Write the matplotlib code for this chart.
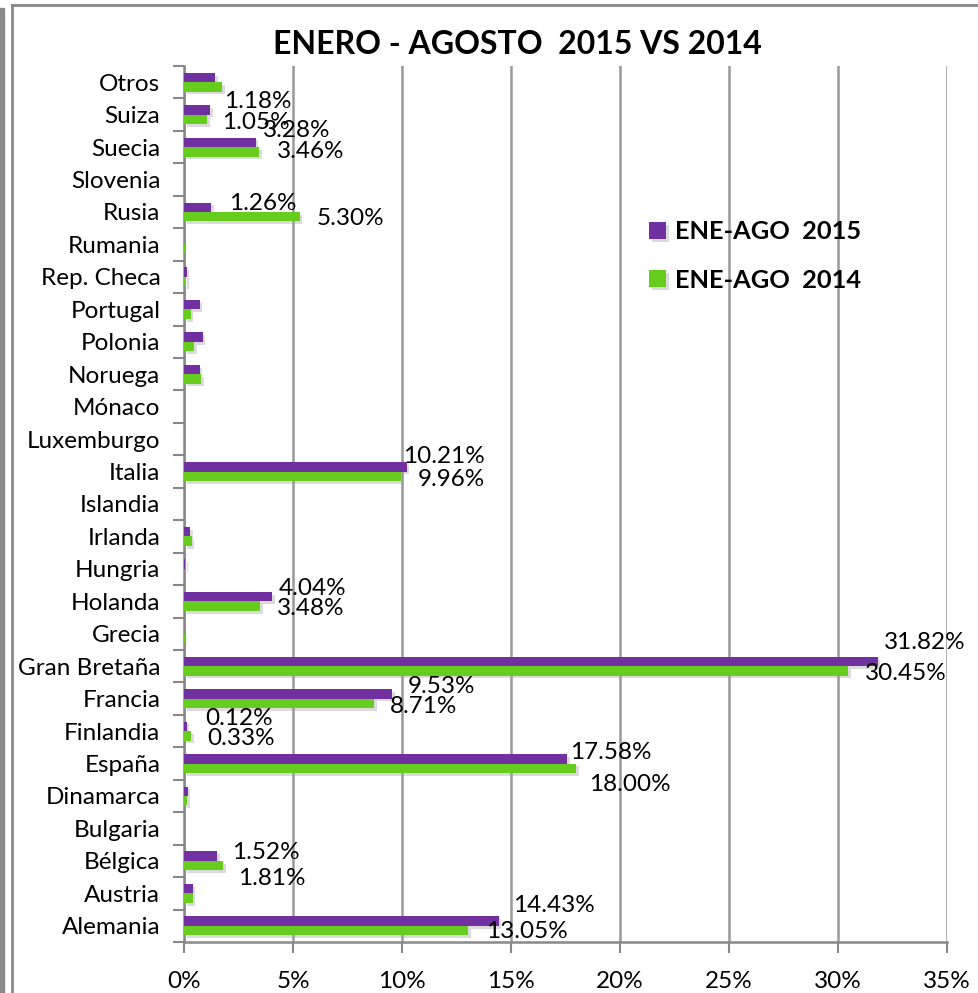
import numpy as np
import matplotlib
matplotlib.use('Agg')
import matplotlib.pyplot as plt
import matplotlib.patheffects as pe
from matplotlib.lines import Line2D
from matplotlib.patches import Rectangle

# Countries, bottom to top as they appear on the chart
paises = ['Alemania', 'Austria', 'Bélgica', 'Bulgaria', 'Dinamarca', 'España',
          'Finlandia', 'Francia', 'Gran Bretaña', 'Grecia', 'Holanda', 'Hungria',
          'Irlanda', 'Islandia', 'Italia', 'Luxemburgo', 'Mónaco', 'Noruega',
          'Polonia', 'Portugal', 'Rep. Checa', 'Rumania', 'Rusia', 'Slovenia',
          'Suecia', 'Suiza', 'Otros']

# share (%) Jan-Aug
ene_ago_2015 = [14.43, 0.40, 1.52, 0.00, 0.17, 17.58, 0.12, 9.53, 31.82, 0.02,
                4.04, 0.05, 0.28, 0.01, 10.21, 0.01, 0.00, 0.72, 0.85, 0.72,
                0.12, 0.01, 1.26, 0.00, 3.28, 1.18, 1.42]
ene_ago_2014 = [13.05, 0.40, 1.81, 0.00, 0.15, 18.00, 0.33, 8.71, 30.45, 0.03,
                3.48, 0.02, 0.35, 0.02, 9.96, 0.02, 0.00, 0.78, 0.45, 0.30,
                0.08, 0.03, 5.30, 0.00, 3.46, 1.05, 1.74]

# which bars carry a value label, and where it sits (pixel offset from bar end)
etiquetas_2015 = {'Suiza': (14, 8), 'Suecia': (7, 12), 'Rusia': (18, 4),
                  'Italia': (-4, 10), 'Holanda': (7, 8), 'Gran Bretaña': (6, 19),
                  'Francia': (16, 7), 'Finlandia': (19, 8), 'España': (3, 6),
                  'Bélgica': (15, 4), 'Alemania': (14, 16)}
etiquetas_2014 = {'Suiza': (15, -3), 'Suecia': (18, 0), 'Rusia': (17, -2),
                  'Italia': (17, -3), 'Holanda': (17, -2), 'Gran Bretaña': (17, -3),
                  'Francia': (16, -3), 'Finlandia': (16, -3), 'España': (13, -16),
                  'Bélgica': (15, -13), 'Alemania': (18, -1)}

morado = '#7030a0'
verde = '#66cc1e'
font = 'Lato'

fig = plt.figure(figsize=(9.79, 9.93), dpi=100)
ax = fig.add_axes([184 / 979, 1 - 942 / 993, (947 - 184) / 979, (942 - 66) / 993])

y = np.arange(len(paises))
h = 0.29
sombra = [pe.SimplePatchShadow(offset=(2, -2), shadow_rgbFace='#999999', alpha=0.35), pe.Normal()]
b15 = ax.barh(y + h / 2, ene_ago_2015, height=h, color=morado, label='ENE-AGO  2015',
              path_effects=sombra, zorder=3)
b14 = ax.barh(y - h / 2, ene_ago_2014, height=h, color=verde, label='ENE-AGO  2014',
              path_effects=sombra, zorder=3)

for i, p in enumerate(paises):
    if p in etiquetas_2015:
        dx, dy = etiquetas_2015[p]
        ax.annotate(f'{ene_ago_2015[i]:.2f}%', (ene_ago_2015[i], y[i] + h / 2),
                    xytext=(dx, dy), textcoords='offset pixels', ha='left', va='center',
                    fontsize=17.5, family=font, zorder=5)
    if p in etiquetas_2014:
        dx, dy = etiquetas_2014[p]
        ax.annotate(f'{ene_ago_2014[i]:.2f}%', (ene_ago_2014[i], y[i] - h / 2),
                    xytext=(dx, dy), textcoords='offset pixels', ha='left', va='center',
                    fontsize=17.5, family=font, zorder=5)

ax.set_xlim(0, 35)
ax.set_ylim(-0.5, len(paises) - 0.5)
ax.set_xticks(np.arange(0, 36, 5))
ax.set_xticklabels([f'{t}%' for t in range(0, 36, 5)], family=font, fontsize=17.5)
ax.set_yticks(y)
ax.set_yticklabels(paises, family=font, fontsize=17.5)
ax.set_yticks(np.arange(-0.5, len(paises), 1), minor=True)
ax.tick_params(axis='y', which='major', length=0, pad=17)
ax.tick_params(axis='y', which='minor', length=8, width=1.5, color='#888888')
ax.tick_params(axis='x', length=8, width=1.5, color='#888888', pad=13)
ax.grid(axis='x', color='#999999', linewidth=1.8, zorder=0)
for s in ['top', 'right']:
    ax.spines[s].set_visible(False)
for s in ['left', 'bottom']:
    ax.spines[s].set_color('#888888')
    ax.spines[s].set_linewidth(1.8)

fig.text(517 / 979, 1 - 44 / 993, 'ENERO - AGOSTO  2015 VS 2014', ha='center', va='center',
         fontsize=23, fontweight='bold', family=font)

ax.legend(handles=[b15, b14], loc='upper left', bbox_to_anchor=(0.58, 0.85), frameon=False,
          prop={'family': font, 'weight': 'bold', 'size': 18.3}, handlelength=0.65,
          handleheight=0.65, handletextpad=0.35, labelspacing=1.0)

# chart frame
fig.add_artist(Line2D([12 / 979, 12 / 979], [0, 1 - 5 / 993], color='#888888', linewidth=2))
fig.add_artist(Line2D([12 / 979, 1], [1 - 5 / 993, 1 - 5 / 993], color='#888888', linewidth=2))
fig.add_artist(Rectangle((0, 0), 4 / 979, 1 - 8 / 993, color='#8a8a8a', transform=fig.transFigure))

fig.savefig('out.png', dpi=100)
